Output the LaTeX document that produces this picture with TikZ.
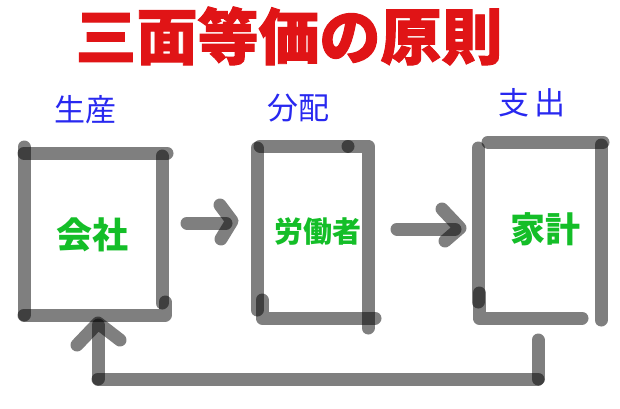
\documentclass[tikz,border=0pt]{standalone}
\usepackage{fontspec}
\newfontfamily\cjk{Noto Sans CJK JP}
\newfontfamily\cjktitle{Noto Sans CJK JP}[BoldFeatures={FakeBold=1.5}]
\definecolor{titlered}{RGB}{224,20,22}
\definecolor{labelblue}{RGB}{40,40,240}
\definecolor{boxgreen}{RGB}{20,190,40}
\tikzset{
  stroke/.style={draw=black, draw opacity=0.5, line width=13pt, line cap=round, line join=round},
  titletext/.style={text=titlered, font=\cjktitle\bfseries\fontsize{61}{66}\selectfont, inner sep=0pt},
  steplabel/.style={text=labelblue, font=\cjk\fontsize{31}{34}\selectfont, inner sep=0pt},
  boxtext/.style={text=boxgreen, font=\cjk\bfseries\fontsize{#1}{#1}\selectfont, inner sep=0pt},
}
\begin{document}
\begin{tikzpicture}[x=1pt,y=-1pt]
\useasboundingbox (0,0) rectangle (620,408);
\fill[white] (0,0) rectangle (620,408);
% title
\node[titletext] (title) at (289,36) {三面等価の原則};
% stage labels
\node[steplabel] (lprod) at (85,110) {生産};
\node[steplabel] (ldist) at (298,108) {分配};
\node[steplabel] (lspend) at (532,103) {支\,出};
% box contents
\node[boxtext=36] (company) at (92,235) {会社};
\node[boxtext=29] (workers) at (318,232) {労働者};
\node[boxtext=35] (household) at (545,229) {家計};
% box 1 (company)
\draw[stroke] (24,147) -- (24,315);
\draw[stroke] (24,153) -- (167,153);
\draw[stroke] (162,156) -- (162,303);
\draw[stroke] (24,315) -- (165,315) -- (165,302);
% box 2 (workers)
\draw[stroke] (257,148) -- (257,310);
\draw[stroke] (260,146) -- (348,146);
\draw[stroke] (348,146) -- (368,146) -- (368,328);
\draw[stroke] (262,300) -- (262,318) -- (375,318);
% box 3 (household)
\draw[stroke] (478,148) -- (478,302);
\draw[stroke] (479,293) -- (479,318) -- (582,318);
\draw[stroke] (488,142) -- (603,142);
\draw[stroke] (601,145) -- (601,320);
% arrow company -> workers
\coordinate (a1s) at (187,223);
\coordinate (a1e) at (226,223);
\coordinate (a1t) at (232,221);
\draw[stroke] (a1s) -- (a1e);
\draw[stroke] (220,205) -- (a1t) -- (221,239);
% arrow workers -> household
\coordinate (a2s) at (397,229);
\coordinate (a2e) at (455,229);
\coordinate (a2t) at (460,228);
\draw[stroke] (a2s) -- (a2e);
\draw[stroke] (442,209) -- (a2t) -- (445,241);
% feedback household -> company
\coordinate (f1) at (538,340);
\coordinate (f2) at (538,379);
\coordinate (f3) at (98,379);
\coordinate (f4) at (98,325);
\draw[stroke] (f1) -- (f2);
\draw[stroke] (f2) -- (f3);
\draw[stroke] (f3) -- (f4);
\draw[stroke] (77,345) -- (98,323) -- (120,340);
\end{tikzpicture}
\end{document}
